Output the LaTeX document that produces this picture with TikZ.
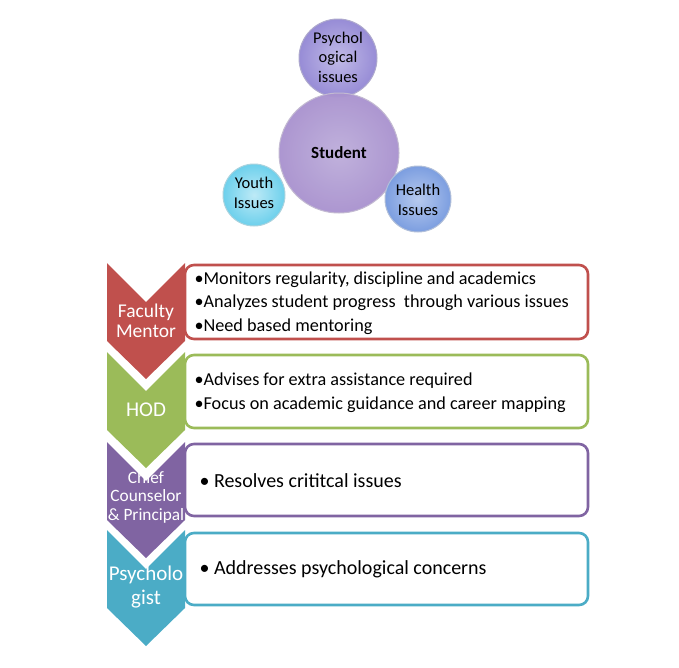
\documentclass[tikz,border=0pt]{standalone}
\usepackage{fontspec}
\setmainfont{Carlito}
\begin{document}
\begin{tikzpicture}[x=1pt,y=-1pt,
  ctext/.style={text=white,align=center,font=\fontsize{19.5}{21.5}\selectfont},
  tbox/.style={draw=#1,line width=2.6pt,rounded corners=9pt,fill=white},
  btext/.style={anchor=west,align=left,font=\fontsize{18.2}{23.7}\selectfont}]
\definecolor{cred}{HTML}{C0504D}
\definecolor{cgreen}{HTML}{9BBB59}
\definecolor{cpurple}{HTML}{8064A2}
\definecolor{cblue}{HTML}{4BACC6}
\definecolor{cstud}{HTML}{A993CF}
\definecolor{cpsy}{HTML}{978CD6}
\definecolor{cyouth}{HTML}{6DD0EC}
\definecolor{chealth}{HTML}{7C9EE0}
\useasboundingbox (0,0) rectangle (679,667);
% circles
\shade[inner color=cpsy!60!white,outer color=cpsy] (338,58) circle (39);
\draw[cpsy!80!black!60!white,line width=1pt] (338,58) circle (39);
\node[inner sep=0pt,minimum size=78pt] (psy) at (338,58) {};
\shade[inner color=cstud!75!white,outer color=cstud,opacity=0.97] (339,153) circle (60);
\draw[cstud!80!black!50!white,line width=1pt] (339,153) circle (60);
\node[inner sep=0pt,minimum size=120pt] (stud) at (339,153) {};
\shade[inner color=cyouth!45!white,outer color=cyouth] (254,195) circle (31);
\draw[cyouth!80!black!50!white,line width=1pt] (254,195) circle (31);
\node[inner sep=0pt,minimum size=62pt] (youth) at (254,195) {};
\shade[inner color=chealth!55!white,outer color=chealth] (418,199) circle (33);
\draw[chealth!80!black!50!white,line width=1pt] (418,199) circle (33);
\node[inner sep=0pt,minimum size=66pt] (health) at (418,199) {};
\node[align=center,font=\fontsize{16.4}{19.5}\selectfont] at ([yshift=1]psy) {Psychol\\ogical\\issues};
\node[font=\bfseries\fontsize{17}{19}\selectfont] at (stud) {Student};
\node[align=center,font=\fontsize{16.5}{20}\selectfont] at ([yshift=2]youth) {Youth\\Issues};
\node[align=center,font=\fontsize{16.5}{20.5}\selectfont] at ([yshift=-1]health) {Health\\Issues};
% text boxes
\draw[tbox=cred] (185,265) rectangle (588,339);
\draw[tbox=cgreen] (185,355) rectangle (588,428);
\draw[tbox=cpurple] (185,444) rectangle (588,516);
\draw[tbox=cblue] (185,533) rectangle (588,605);
% chevrons
\foreach \t/\c in {263/cred,352/cgreen,442/cpurple,530/cblue}{
  \fill[\c] (107,\t) -- (146,\t+39) -- (185,\t) -- (185,\t+78) -- (146,\t+116) -- (107,\t+78) -- cycle;
}
\node[ctext] (fm) at (146,321) {Faculty\\[-1pt]Mentor};
\node[ctext,font=\fontsize{21}{23}\selectfont] (hod) at (146,410) {HOD};
\node[ctext,font=\fontsize{17.3}{18.5}\selectfont] (ccp) at (146,497) {Chief\\Counselor\\\&~Principal};
\node[ctext,font=\fontsize{21}{24}\selectfont] (psyc) at (146,587) {Psycholo\\gist};
% box texts
\node[btext] (t1) at (191,303) {•Monitors regularity, discipline and academics\\•Analyzes student progress~~through various issues\\•Need based mentoring};
\node[btext] (t2) at (191,393) {•Advises for extra assistance required\\•Focus on academic guidance and career mapping};
\node[btext,font=\fontsize{20}{24}\selectfont] (t3) at (196,481) {•~Resolves crititcal issues};
\node[btext,font=\fontsize{20}{24}\selectfont] (t4) at (196,569) {•~Addresses psychological concerns};
\end{tikzpicture}
\end{document}
